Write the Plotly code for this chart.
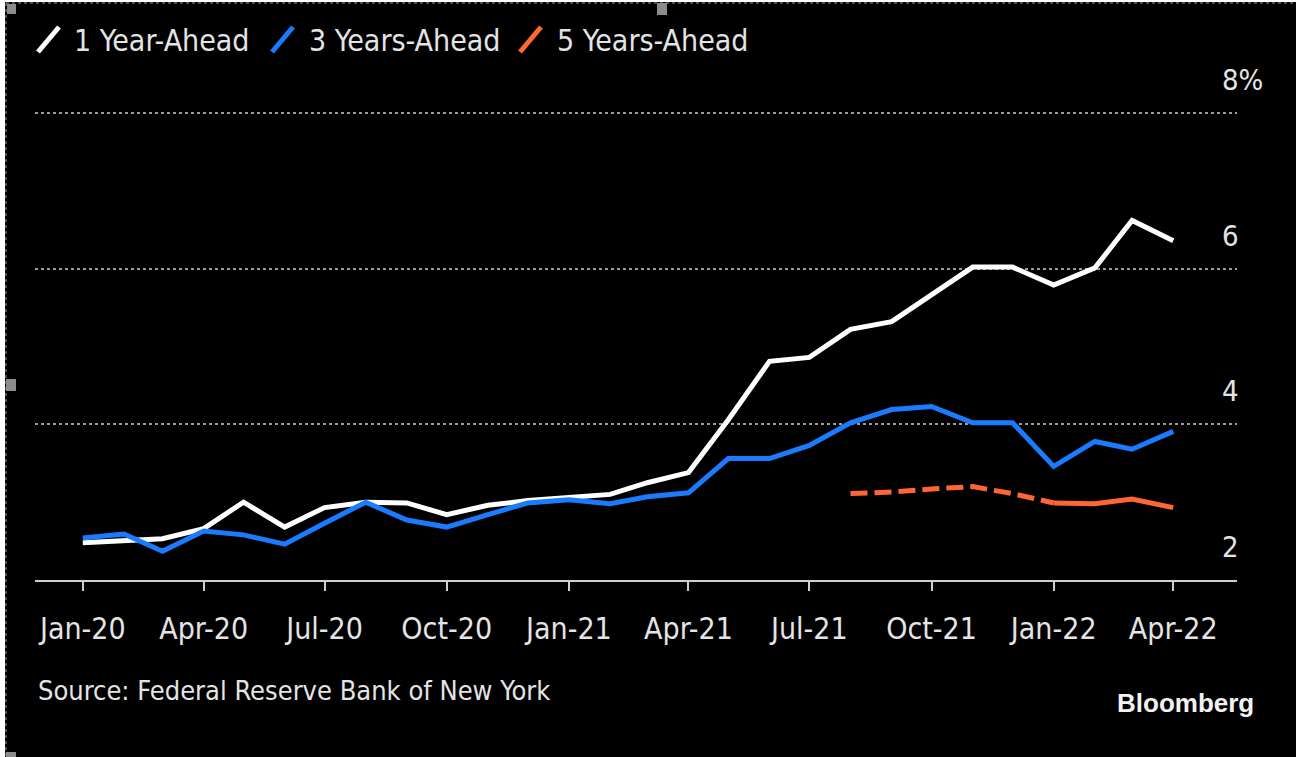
import plotly.graph_objects as go

# Monthly survey dates (Jan-2020 .. Apr-2022)
months = [f"{y}-{m:02d}-01" for y in (2020, 2021, 2022) for m in range(1, 13)][:28]

# Median expected inflation, %
one_year = [2.48, 2.50, 2.53, 2.66, 3.00, 2.68, 2.93, 3.00, 2.99, 2.84, 2.96, 3.02,
            3.06, 3.10, 3.25, 3.38, 4.06, 4.81, 4.86, 5.22, 5.32, 5.67, 6.02, 6.02,
            5.79, 6.01, 6.62, 6.36]
three_year = [2.54, 2.59, 2.37, 2.63, 2.58, 2.46, 2.73, 3.00, 2.77, 2.68, 2.84, 2.99,
              3.03, 2.98, 3.07, 3.12, 3.56, 3.56, 3.73, 4.02, 4.19, 4.23, 4.02, 4.02,
              3.46, 3.78, 3.68, 3.91]
five_year = [None] * 19 + [3.11, 3.13, 3.17, 3.20, 3.11, 2.99, 2.98, 3.04, 2.93]
five_year_dashed_until = "2022-01-01"

series_names = ["1 Year-Ahead", "3 Years-Ahead", "5 Years-Ahead"]
y_ticks = [2, 4, 6, 8]
y_tick_labels = ["2", "4", "6", "8%"]
source_text = "Source: Federal Reserve Bank of New York"
brand_text = "Bloomberg"

WHITE, BLUE, ORANGE = "#ffffff", "#1b7bff", "#ff6633"
TEXT = "#e4e4e4"
FONT = "Liberation Sans Narrow, DejaVu Sans Condensed, Arial Narrow, sans-serif"

W, H = 1296, 757
L, R, T, B = 35, 59, 109, 177
PW, PH = W - L - R, H - T - B
Y_TOP = 2 + (H - B - T) / ((H - B - 113) / 6)   # keeps the 8% gridline at y=113 px


def px(x):
    return (x - L) / PW


def py(y):
    return (H - B - y) / PH


fig = go.Figure()

fig.add_trace(go.Scatter(x=months, y=one_year, mode="lines", name=series_names[0],
                         line=dict(color=WHITE, width=5)))
fig.add_trace(go.Scatter(x=months, y=three_year, mode="lines", name=series_names[1],
                         line=dict(color=BLUE, width=5)))

# 5-year series: dashed early part, solid afterwards
dash_x = [m for m, v in zip(months, five_year) if v is not None and m <= five_year_dashed_until]
dash_y = [v for m, v in zip(months, five_year) if v is not None and m <= five_year_dashed_until]
solid_x = [m for m, v in zip(months, five_year) if v is not None and m >= five_year_dashed_until]
solid_y = [v for m, v in zip(months, five_year) if v is not None and m >= five_year_dashed_until]
fig.add_trace(go.Scatter(x=dash_x, y=dash_y, mode="lines", name=series_names[2],
                         line=dict(color=ORANGE, width=5, dash="17px,7px")))
fig.add_trace(go.Scatter(x=solid_x, y=solid_y, mode="lines", name=series_names[2],
                         showlegend=False, line=dict(color=ORANGE, width=5)))

fig.update_layout(
    width=W, height=H,
    paper_bgcolor="#000000", plot_bgcolor="#000000",
    margin=dict(l=L, r=R, t=T, b=B),
    showlegend=False,
    font=dict(family=FONT, color=TEXT, size=30),
    xaxis=dict(
        type="date", range=["2019-11-26", "2022-05-19"],
        tick0="2020-01-01", dtick="M3", tickformat="%b-%y",
        showgrid=False, zeroline=False,
        showline=True, linecolor="#cfcfcf", linewidth=2,
        ticks="outside", ticklen=9, tickwidth=2, tickcolor="#cfcfcf",
        ticklabelstandoff=12,
        tickfont=dict(family=FONT, size=30, color=TEXT),
    ),
    yaxis=dict(
        range=[2, Y_TOP], tickvals=y_ticks, showticklabels=False,
        showgrid=True, gridcolor="#9c9c9c", griddash="dot", gridwidth=2,
        zeroline=False, showline=False,
    ),
)

# Right-hand value labels sitting above their gridlines
for v, lab in zip(y_ticks, y_tick_labels):
    fig.add_annotation(x=px(1220), xref="paper", y=v, yref="y", text=lab,
                       showarrow=False, xanchor="left", yanchor="middle", yshift=33,
                       font=dict(family=FONT, size=29, color=TEXT))

# Legend: coloured slashes followed by series names
legend_items = [(38, 72, WHITE), (272, 307, BLUE), (520, 555, ORANGE)]
for (sx, tx, col), name in zip(legend_items, series_names):
    fig.add_shape(type="line", xref="paper", yref="paper",
                  x0=px(sx), y0=py(52), x1=px(sx + 21), y1=py(27),
                  line=dict(color=col, width=5))
    fig.add_annotation(x=px(tx), y=py(40), xref="paper", yref="paper", text=name,
                       showarrow=False, xanchor="left", yanchor="middle",
                       font=dict(family=FONT, size=30, color=TEXT))

fig.add_annotation(x=px(36), y=py(690), xref="paper", yref="paper", text=source_text,
                   showarrow=False, xanchor="left", yanchor="middle",
                   font=dict(family=FONT, size=27, color=TEXT))
fig.add_annotation(x=px(1256), y=py(703), xref="paper", yref="paper",
                   text=f"<b>{brand_text}</b>",
                   showarrow=False, xanchor="right", yanchor="middle",
                   font=dict(family="Liberation Sans, Arial, sans-serif", size=26, color="#f2f2f2"))

# Frame: light margin with dotted edge and small grey handles
fig.add_shape(type="rect", xref="paper", yref="paper", x0=px(0), x1=px(5), y0=py(757), y1=py(0),
              line=dict(width=0), fillcolor="#ffffff", layer="above")
fig.add_shape(type="rect", xref="paper", yref="paper", x0=px(0), x1=px(1296), y0=py(2), y1=py(0),
              line=dict(width=0), fillcolor="#ffffff", layer="above")
fig.add_shape(type="line", xref="paper", yref="paper", x0=px(6), x1=px(1296), y0=py(3), y1=py(3),
              line=dict(color="#9a9a9a", width=1, dash="dot"), layer="above")
fig.add_shape(type="line", xref="paper", yref="paper", x0=px(6), x1=px(6), y0=py(3), y1=py(757),
              line=dict(color="#9a9a9a", width=1, dash="dot"), layer="above")
for hx0, hy0, hx1, hy1 in [(7, 4, 16, 14), (657, 3, 667, 15), (6, 379, 16, 391), (6, 752, 16, 757)]:
    fig.add_shape(type="rect", xref="paper", yref="paper", x0=px(hx0), x1=px(hx1),
                  y0=py(hy1), y1=py(hy0), line=dict(width=0), fillcolor="#8c8c8c", layer="above")

fig.write_html("out.html")
